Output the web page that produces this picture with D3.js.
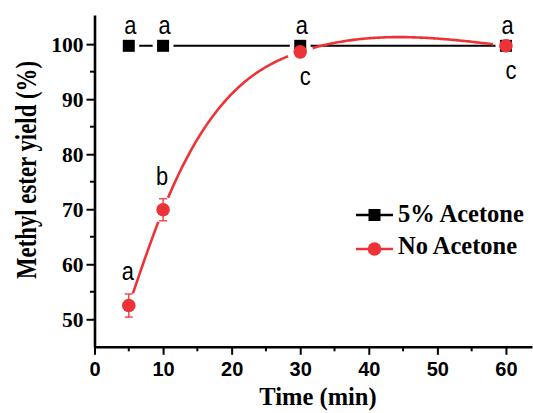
<!DOCTYPE html>
<html>
<head>
<meta charset="utf-8">
<script src="https://cdn.jsdelivr.net/npm/d3@7"></script>
<style>
  html, body { margin: 0; padding: 0; background: #fff; }
  svg { display: block; }
</style>
</head>
<body>
<svg id="chart" width="533" height="413"></svg>
<script>
// ---- data ----
const times = [5, 10, 30, 60];
const acetone5 = [99.7, 99.7, 99.7, 99.7];
const noAcetone = [52.5, 69.9, 98.6, 99.7];
const noAcetoneErr = [2.1, 2.0, 0.4, 0.3];
const acetone5Letters = ["a", "a", "a", "a"];
const noAcetoneLetters = ["a", "b", "c", "c"];
const noAcetoneLetterSide = ["above", "above", "below", "below"];
const xTicks = [0, 10, 20, 30, 40, 50, 60];
const yTicks = [50, 60, 70, 80, 90, 100];
const seriesNames = ["5% Acetone", "No Acetone"];

const W = 533, H = 413;
const svg = d3.select("#chart");
const RED = "#ee3338";
const serif = "'Liberation Serif','Times New Roman',serif";
const sans = "'Liberation Sans',Arial,sans-serif";

const x = d3.scaleLinear().domain([0, 63.8]).range([94.5, 532]);
const y = d3.scaleLinear().domain([45, 105.3]).range([346.8, 15]);

// ---- axes ----
const xMinor = d3.range(5, 61, 10);
const yMinor = d3.range(55, 105, 10);

const gx = svg.append("g").attr("transform", `translate(0,${y(45)})`);
gx.call(d3.axisBottom(x).tickValues(xTicks).tickSize(8).tickSizeOuter(0).tickFormat(d3.format("d")));
gx.select(".domain").attr("stroke-width", 2.6);
gx.selectAll(".tick line").attr("stroke-width", 2);
gx.selectAll(".tick text").attr("font-family", sans).attr("font-weight", "bold")
  .attr("font-size", 20).attr("dy", 0).attr("y", 29).attr("fill", "#000");
gx.selectAll(".minor").data(xMinor).enter().append("line")
  .attr("x1", d => x(d)).attr("x2", d => x(d)).attr("y1", 0).attr("y2", 4.5)
  .attr("stroke", "#000").attr("stroke-width", 2);

const gy = svg.append("g").attr("transform", `translate(${x(0)},0)`);
gy.call(d3.axisLeft(y).tickValues(yTicks).tickSize(8).tickSizeOuter(0).tickFormat(d3.format("d")));
gy.select(".domain").attr("stroke-width", 2.6);
gy.selectAll(".tick line").attr("stroke-width", 2);
gy.selectAll(".tick text").attr("font-family", serif).attr("font-weight", "bold")
  .attr("font-size", 21.5).attr("x", -11).attr("dy", "0.33em").attr("fill", "#000");
gy.selectAll(".minor").data(yMinor).enter().append("line")
  .attr("y1", d => y(d)).attr("y2", d => y(d)).attr("x1", 0).attr("x2", -4.5)
  .attr("stroke", "#000").attr("stroke-width", 2);

// axis titles
svg.append("text").attr("x", 318).attr("y", 405).attr("text-anchor", "middle")
  .attr("font-family", serif).attr("font-weight", "bold").attr("font-size", 24.5)
  .text("Time (min)");
svg.append("text").attr("transform", "translate(36,170) rotate(-90) scale(0.8,1)").attr("text-anchor", "middle")
  .attr("font-family", serif).attr("font-weight", "bold").attr("font-size", 28.5)
  .text("Methyl ester yield (%)");

// ---- masks for line gaps around symbols ----
const defs = svg.append("defs");
const mBlack = defs.append("mask").attr("id", "gapBlack").attr("maskUnits", "userSpaceOnUse")
  .attr("x", 0).attr("y", 0).attr("width", W).attr("height", H);
mBlack.append("rect").attr("width", W).attr("height", H).attr("fill", "#fff");
mBlack.selectAll("circle").data(times).enter().append("circle")
  .attr("cx", d => x(d)).attr("cy", (d, i) => y(acetone5[i])).attr("r", 10.5).attr("fill", "#000");

const mRed = defs.append("mask").attr("id", "gapRed").attr("maskUnits", "userSpaceOnUse")
  .attr("x", 0).attr("y", 0).attr("width", W).attr("height", H);
mRed.append("rect").attr("width", W).attr("height", H).attr("fill", "#fff");
mRed.selectAll("circle").data(times).enter().append("circle")
  .attr("cx", d => x(d)).attr("cy", (d, i) => y(noAcetone[i])).attr("r", 13).attr("fill", "#000");

// ---- natural cubic spline y(x) for the smooth red curve ----
function naturalSpline(xs, ys) {
  const n = xs.length, h = [], M = new Array(n).fill(0);
  for (let i = 0; i < n - 1; i++) h.push(xs[i + 1] - xs[i]);
  const a = [], b = [], c = [], r = [];
  for (let i = 1; i < n - 1; i++) {
    a.push(h[i - 1]); b.push(2 * (h[i - 1] + h[i])); c.push(h[i]);
    r.push(6 * ((ys[i + 1] - ys[i]) / h[i] - (ys[i] - ys[i - 1]) / h[i - 1]));
  }
  const m = r.length;
  for (let i = 1; i < m; i++) {
    const w = a[i] / b[i - 1];
    b[i] -= w * c[i - 1]; r[i] -= w * r[i - 1];
  }
  const sol = new Array(m);
  for (let i = m - 1; i >= 0; i--) sol[i] = (r[i] - (i < m - 1 ? c[i] * sol[i + 1] : 0)) / b[i];
  for (let i = 0; i < m; i++) M[i + 1] = sol[i];
  return function (t) {
    let k = 0;
    while (k < n - 2 && t > xs[k + 1]) k++;
    const hk = h[k], A = xs[k + 1] - t, B = t - xs[k];
    return M[k] * A * A * A / (6 * hk) + M[k + 1] * B * B * B / (6 * hk)
      + (ys[k] / hk - M[k] * hk / 6) * A + (ys[k + 1] / hk - M[k + 1] * hk / 6) * B;
  };
}
const spl = naturalSpline(times, noAcetone);
const curveX = d3.range(times[0], times[times.length - 1] + 0.001, 0.25);

// ---- black series ----
const blackLine = d3.line().x(d => x(d[0])).y(d => y(d[1]));
svg.append("path").datum(times.map((t, i) => [t, acetone5[i]]))
  .attr("d", blackLine).attr("fill", "none").attr("stroke", "#000").attr("stroke-width", 2)
  .attr("mask", "url(#gapBlack)");
const sq = 12;
svg.selectAll(".sq").data(times).enter().append("rect")
  .attr("x", d => x(d) - sq / 2).attr("y", (d, i) => y(acetone5[i]) - sq / 2)
  .attr("width", sq).attr("height", sq).attr("fill", "#000");

// ---- red series ----
svg.append("path").datum(curveX.map(t => [t, spl(t)]))
  .attr("d", d3.line().x(d => x(d[0])).y(d => y(d[1])))
  .attr("fill", "none").attr("stroke", RED).attr("stroke-width", 2.6)
  .attr("mask", "url(#gapRed)");
const eb = svg.append("g").attr("stroke", RED).attr("stroke-width", 1.3);
times.forEach((t, i) => {
  const cx = x(t), top = y(noAcetone[i] + noAcetoneErr[i]), bot = y(noAcetone[i] - noAcetoneErr[i]);
  eb.append("line").attr("x1", cx).attr("x2", cx).attr("y1", top).attr("y2", bot);
  eb.append("line").attr("x1", cx - 4).attr("x2", cx + 4).attr("y1", top).attr("y2", top);
  eb.append("line").attr("x1", cx - 4).attr("x2", cx + 4).attr("y1", bot).attr("y2", bot);
});
svg.selectAll(".dot").data(times).enter().append("circle")
  .attr("cx", d => x(d)).attr("cy", (d, i) => y(noAcetone[i])).attr("r", 6.8).attr("fill", RED);

// ---- significance letters ----
function letter(px, py, s) {
  svg.append("text").attr("transform", `translate(${px},${py}) scale(0.95,1.1)`)
    .attr("text-anchor", "middle").attr("font-family", sans).attr("font-size", 23).text(s);
}
times.forEach((t, i) => letter(x(t) + 1.5, y(acetone5[i]) - 12, acetone5Letters[i]));
times.forEach((t, i) => {
  const below = noAcetoneLetterSide[i] === "below";
  letter(x(t) + (below ? 5 : -1),
    below ? y(noAcetone[i]) + 33 : y(noAcetone[i] + noAcetoneErr[i]) - 14,
    noAcetoneLetters[i]);
});

// ---- legend ----
const lg = svg.append("g");
const rows = [{ y: 215, color: "#000", shape: "square" }, { y: 249, color: RED, shape: "circle" }];
rows.forEach((r, i) => {
  lg.append("line").attr("x1", 356).attr("x2", 393).attr("y1", r.y).attr("y2", r.y)
    .attr("stroke", r.color).attr("stroke-width", 2.4);
  if (r.shape === "square") {
    lg.append("rect").attr("x", 374.5 - 6).attr("y", r.y - 6).attr("width", 12).attr("height", 12).attr("fill", r.color);
  } else {
    lg.append("circle").attr("cx", 374.5).attr("cy", r.y).attr("r", 6.8).attr("fill", r.color);
  }
  lg.append("text").attr("x", 398).attr("y", r.y + (i === 0 ? 7 : 4.5))
    .attr("font-family", serif).attr("font-weight", "bold").attr("font-size", 24.5)
    .text(seriesNames[i]);
});
</script>
</body>
</html>
